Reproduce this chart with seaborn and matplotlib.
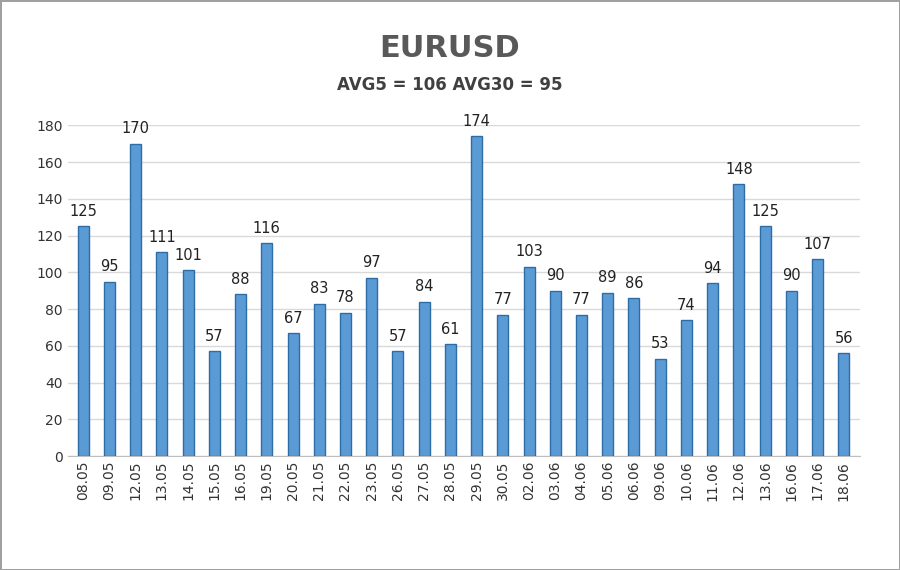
import matplotlib
matplotlib.use("Agg")
import matplotlib.pyplot as plt
import seaborn as sns
import pandas as pd

dates = ["08.05","09.05","12.05","13.05","14.05","15.05","16.05","19.05","20.05","21.05",
         "22.05","23.05","26.05","27.05","28.05","29.05","30.05","02.06","03.06","04.06",
         "05.06","06.06","09.06","10.06","11.06","12.06","13.06","16.06","17.06","18.06"]
values = [125,95,170,111,101,57,88,116,67,83,78,97,57,84,61,174,77,103,90,77,
          89,86,53,74,94,148,125,90,107,56]
yticks = [0,20,40,60,80,100,120,140,160,180]

df = pd.DataFrame({"date": dates, "value": values})

fig = plt.figure(figsize=(9, 5.7), dpi=100)
fig.patch.set_edgecolor("#a0a0a0"); fig.patch.set_linewidth(2)
ax = fig.add_axes([0.075, 0.2, 0.88, 0.58])
sns.barplot(data=df, x="date", y="value", color="#5B9BD5", width=0.42,
            edgecolor="#2E6DA4", linewidth=1.0, saturation=1, ax=ax, zorder=3)
for i, v in enumerate(values):
    ax.text(i, v + 4, str(v), ha="center", va="bottom", fontsize=10.5, color="#222222")
ax.set_ylim(0, 180)
ax.set_yticks(yticks)
ax.set_xlim(-0.6, len(dates) - 0.4)
ax.grid(axis="y", color="#d9d9d9", linewidth=1, zorder=0)
ax.set_axisbelow(True)
for s in ["top", "right", "left"]:
    ax.spines[s].set_visible(False)
ax.spines["bottom"].set_color("#bfbfbf")
ax.tick_params(axis="both", length=0, labelsize=10, colors="#333333")
ax.tick_params(axis="x", rotation=90)
ax.set_xlabel(""); ax.set_ylabel("")
fig.text(0.5, 0.915, "EURUSD", ha="center", va="center", fontsize=22, fontweight="bold", color="#595959")
fig.text(0.5, 0.85, "AVG5 = 106 AVG30 = 95", ha="center", va="center", fontsize=12, fontweight="bold", color="#404040")
fig.savefig("out.png", dpi=100, edgecolor=fig.get_edgecolor())
